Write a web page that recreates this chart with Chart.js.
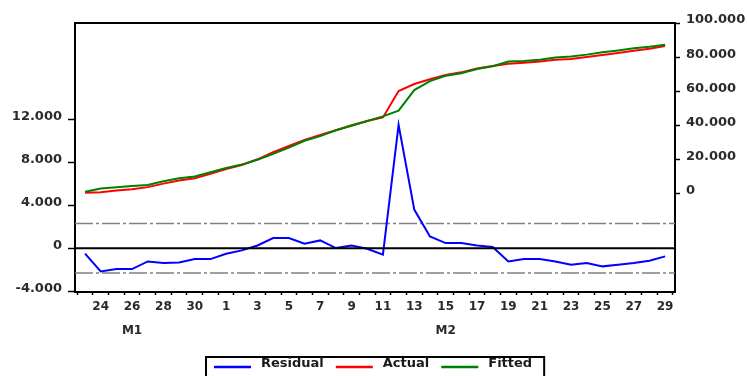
<!DOCTYPE html>
<html>
<head>
<meta charset="utf-8">
<title>Residual, Actual, Fitted</title>
<script src="https://cdn.jsdelivr.net/npm/chart.js@4.4.1/dist/chart.umd.min.js"></script>
<style>
  html, body { margin: 0; padding: 0; background: #ffffff; }
  #box { width: 747px; height: 376px; }
</style>
</head>
<body>
<div id="box"><canvas id="chart" width="747" height="376"></canvas></div>
<script>
// Daily observations, 23 Jan - 29 Feb
const dayLabels = [23, 24, 25, 26, 27, 28, 29, 30, 31,
  1, 2, 3, 4, 5, 6, 7, 8, 9, 10, 11, 12, 13, 14, 15, 16, 17, 18, 19, 20,
  21, 22, 23, 24, 25, 26, 27, 28, 29];
const monthNames = ['M1', 'M2'];
const monthLabelIndex = [3, 23];

const actual = [650, 950, 1900, 2600, 3900, 5950, 7750, 9150, 11650, 14550,
  16900, 20200, 24300, 28000, 31500, 34500, 37200, 40100, 42600, 44700,
  60200, 64300, 67050, 69550, 71100, 73300, 74800, 76200, 76700, 77500,
  78500, 78900, 80100, 81200, 82400, 83800, 84900, 86500];

const fitted = [1160, 3110, 3840, 4540, 5130, 7330, 9070, 10160, 12660, 15060,
  17100, 19940, 23350, 27050, 31080, 33770, 37180, 39840, 42650, 45300,
  48690, 60700, 65950, 69070, 70620, 73040, 74680, 77430, 77710, 78510,
  79730, 80440, 81480, 82890, 83940, 85180, 86060, 87260];

const residual = [-510, -2160, -1940, -1940, -1230, -1380, -1320, -1010, -1010, -510,
  -200, 260, 950, 950, 420, 730, 20, 260, -50, -600,
  11510, 3600, 1100, 480, 480, 260, 120, -1230, -1010, -1010,
  -1230, -1540, -1380, -1690, -1540, -1380, -1160, -760];

const residualBand = 2300;                         // +/- one standard error
const residualTicks = [-4000, 0, 4000, 8000, 12000];
const levelTicks = [0, 20000, 40000, 60000, 80000, 100000];
const legendSeries = ['Residual', 'Actual', 'Fitted'];

const X_MIN = -0.64, X_MAX = 37.63;

const xy = values => values.map((v, i) => ({ x: i, y: v }));
const flat = v => [{ x: X_MIN, y: v }, { x: X_MAX, y: v }];
const fmtThousands = v =>
  (v < 0 ? '-' : '') + String(Math.abs(v)).replace(/\B(?=(\d{3})+(?!\d))/g, '.');

const FONT_FAMILY = '"DejaVu Sans", Verdana, sans-serif';
const AXIS_FONT = { family: FONT_FAMILY, size: 13, weight: 'bold' };
const TEXT_COLOR = '#2a2a2a';

// top edge of the plot frame
const frameTop = {
  id: 'frameTop',
  afterDraw(chart) {
    const { ctx, chartArea: a } = chart;
    ctx.save();
    ctx.strokeStyle = '#000';
    ctx.lineWidth = 2;
    ctx.beginPath();
    ctx.moveTo(a.left - 1, a.top);
    ctx.lineTo(a.right + 1, a.top);
    ctx.stroke();
    ctx.restore();
  }
};

// boxed legend with line swatches under the plot
const boxedLegend = {
  id: 'boxedLegend',
  afterDraw(chart) {
    const { ctx, chartArea: a } = chart;
    const sets = legendSeries.map(n => chart.data.datasets.find(d => d.label === n));
    ctx.save();
    ctx.font = 'bold 13px ' + FONT_FAMILY;
    const lineLen = 37, gapText = 10, gapItem = 12, padL = 8, padR = 12;
    const widths = sets.map(d => ctx.measureText(d.label).width);
    const total = padL + sets.length * (lineLen + gapText) +
      widths.reduce((s, w) => s + w, 0) + (sets.length - 1) * gapItem + padR;
    const left = Math.round((a.left + a.right) / 2 - total / 2);
    const top = 357;
    ctx.strokeStyle = '#000';
    ctx.lineWidth = 2;
    ctx.strokeRect(left, top, total, 40);
    let x = left + padL;
    sets.forEach((d, i) => {
      ctx.strokeStyle = d.borderColor;
      ctx.lineWidth = 2.5;
      ctx.beginPath();
      ctx.moveTo(x, 367);
      ctx.lineTo(x + lineLen, 367);
      ctx.stroke();
      x += lineLen + gapText;
      ctx.fillStyle = '#1a1a1a';
      ctx.textBaseline = 'middle';
      ctx.textAlign = 'left';
      ctx.fillText(d.label, x, 364);
      x += widths[i] + gapItem;
    });
    ctx.restore();
  }
};

new Chart(document.getElementById('chart'), {
  type: 'line',
  data: {
    datasets: [
      { label: 'zero', data: flat(0), yAxisID: 'yRes', borderColor: '#000000', borderWidth: 2, order: 0 },
      { label: 'Fitted', data: xy(fitted), yAxisID: 'yLevel', borderColor: '#008000', borderWidth: 2, order: 1 },
      { label: 'Actual', data: xy(actual), yAxisID: 'yLevel', borderColor: '#ff0000', borderWidth: 2, order: 2 },
      { label: 'Residual', data: xy(residual), yAxisID: 'yRes', borderColor: '#0000ff', borderWidth: 2, order: 3 },
      { label: 'upper', data: flat(residualBand), yAxisID: 'yRes', borderColor: '#808080', borderWidth: 1.5, borderDash: [18, 3, 3, 3], order: 4 },
      { label: 'lower', data: flat(-residualBand), yAxisID: 'yRes', borderColor: '#808080', borderWidth: 1.5, borderDash: [18, 3, 3, 3], order: 5 }
    ]
  },
  options: {
    responsive: false,
    animation: false,
    events: [],
    layout: { padding: { top: 23, left: 0, right: 0, bottom: 0 } },
    elements: {
      point: { radius: 0 },
      line: { tension: 0, fill: false }
    },
    plugins: {
      legend: { display: false },
      tooltip: { enabled: false }
    },
    scales: {
      x: {
        type: 'linear',
        min: X_MIN,
        max: X_MAX,
        afterBuildTicks: s => { s.ticks = dayLabels.map((_, i) => ({ value: i })); },
        afterFit: s => { s.height = 84; },
        border: { color: '#000', width: 2 },
        grid: { offset: true, drawOnChartArea: false, tickLength: 3, tickColor: '#000', tickWidth: 1.5 },
        ticks: {
          autoSkip: false, maxRotation: 0, minRotation: 0, padding: 0,
          color: TEXT_COLOR,
          font: { family: FONT_FAMILY, size: 12, weight: 'bold', lineHeight: 2 },
          callback: (v, i) => {
            if (i % 2 === 0) return '';
            const d = String(dayLabels[i]);
            const m = monthLabelIndex.indexOf(i);
            return m >= 0 ? [d, monthNames[m]] : d;
          }
        }
      },
      yRes: {
        type: 'linear',
        position: 'left',
        min: -4080,
        max: 21000,
        afterBuildTicks: s => { s.ticks = residualTicks.map(v => ({ value: v })); },
        afterFit: s => { s.width = 75; },
        border: { color: '#000', width: 2 },
        grid: { drawOnChartArea: false, tickLength: 7, tickColor: '#000', tickWidth: 1.5 },
        ticks: { padding: 6, labelOffset: -3, color: TEXT_COLOR, font: AXIS_FONT, callback: v => fmtThousands(v) }
      },
      yLevel: {
        type: 'linear',
        position: 'right',
        min: -57500,
        max: 100000,
        afterBuildTicks: s => { s.ticks = levelTicks.map(v => ({ value: v })); },
        afterFit: s => { s.width = 72; },
        border: { color: '#000', width: 2 },
        grid: { drawOnChartArea: false, tickLength: 5, tickColor: '#000', tickWidth: 1.5 },
        ticks: { padding: 6, labelOffset: -3, color: TEXT_COLOR, font: AXIS_FONT, callback: v => fmtThousands(v) }
      }
    }
  },
  plugins: [frameTop, boxedLegend]
});
</script>
</body>
</html>
